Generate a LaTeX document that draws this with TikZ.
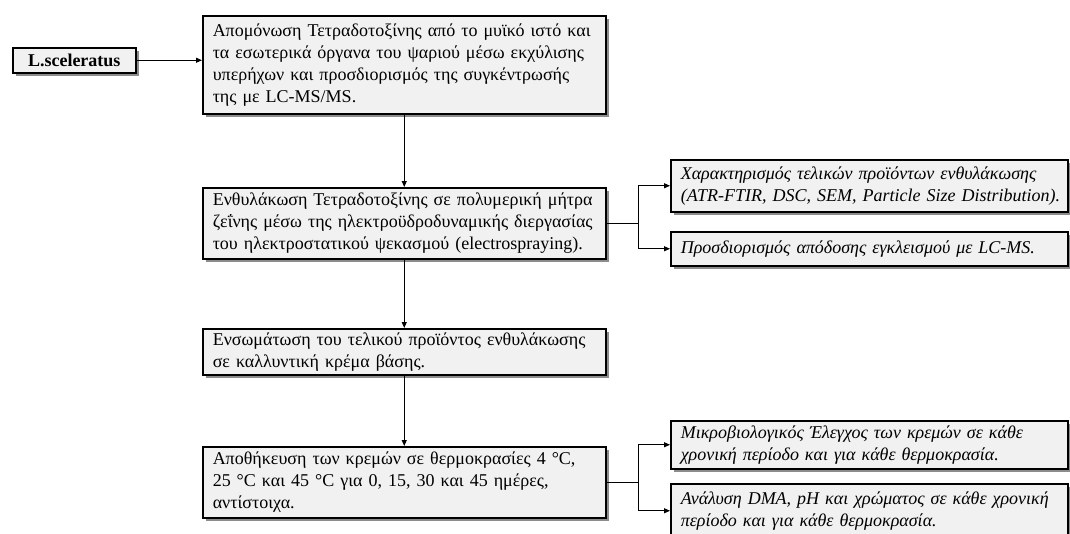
\documentclass[tikz,border=0pt]{standalone}
\usepackage{fontspec}
\setmainfont{Liberation Serif}
\usetikzlibrary{arrows.meta,shadows}
\definecolor{boxfill}{HTML}{F1F1F1}
\newcommand{\jline}[1]{\makebox[\hsize][s]{#1}}
\begin{document}
\begin{tikzpicture}[x=1pt,y=-1pt,
  box/.style={draw=black, line width=1.5pt, fill=boxfill,
    drop shadow={shadow xshift=3pt, shadow yshift=-3pt, fill=black, opacity=0.45},
    inner xsep=10pt, inner ysep=0pt, anchor=north west, align=left,
    font=\fontsize{18}{22}\selectfont},
  mainbox/.style={box, text width=383pt},
  sidebox/.style={box, text width=377pt, font=\fontsize{18}{22}\selectfont\itshape},
  arr/.style={line width=1pt, -{Triangle[length=6pt,width=5pt]}},
  conn/.style={line width=1pt}]
\useasboundingbox (0,0) rectangle (1070,533);
\clip (0,0) rectangle (1070,533);

\node[box, anchor=north west, minimum width=123pt, minimum height=25pt, text width=, inner xsep=0pt,
  align=center, font=\fontsize{18}{22}\selectfont\bfseries] (lsc) at (12,47) {L.sceleratus};

\node[mainbox, minimum height=98pt] (b1) at (202,15) {%
\jline{Απομόνωση Τετραδοτοξίνης από το μυϊκό ιστό και}\\
\jline{τα εσωτερικά όργανα του ψαριού μέσω εκχύλισης}\\
\jline{υπερήχων και προσδιορισμός της συγκέντρωσής}\\
της με LC-MS/MS.};

\node[mainbox, minimum height=71pt] (b2) at (202,187) {%
\jline{Ενθυλάκωση Τετραδοτοξίνης σε πολυμερική μήτρα}\\
\jline{ζεΐνης μέσω της ηλεκτροϋδροδυναμικής διεργασίας}\\
του ηλεκτροστατικού ψεκασμού (electrospraying).};

\node[mainbox, minimum height=46pt] (b3) at (202,328) {%
\jline{Ενσωμάτωση του τελικού προϊόντος ενθυλάκωσης}\\
σε καλλυντική κρέμα βάσης.};

\node[mainbox, minimum height=71pt] (b4) at (202,446) {%
\jline{Αποθήκευση των κρεμών σε θερμοκρασίες 4 °C,}\\
25 °C και 45 °C για 0, 15, 30 και 45 ημέρες,\\
αντίστοιχα.};

\node[sidebox, minimum height=52pt] (r1) at (670,159) {%
\mbox{Χαρακτηρισμός τελικών προϊόντων ενθυλάκωσης}\\
\mbox{(ATR-FTIR, DSC, SEM, Particle Size Distribution).}};

\node[sidebox, minimum height=34pt] (r2) at (670,231) {%
\mbox{Προσδιορισμός απόδοσης εγκλεισμού με LC-MS.}};

\node[sidebox, minimum height=48pt] (r3) at (670,420) {%
\mbox{Μικροβιολογικός Έλεγχος των κρεμών σε κάθε}\\
\mbox{χρονική περίοδο και για κάθε θερμοκρασία.}};

\node[sidebox, minimum height=54pt] (r4) at (670,483) {%
\mbox{Ανάλυση DMA, pH και χρώματος σε κάθε χρονική}\\
\mbox{περίοδο και για κάθε θερμοκρασία.}};

\draw[arr] (lsc.east) -- (lsc.east -| b1.west);
\draw[arr] (b1.south) -- (b2.north);
\draw[arr] (b2.south) -- (b3.north);
\draw[arr] (b3.south) -- (b4.north);

\coordinate (j1) at ([xshift=32pt]b2.east);
\draw[conn] (b2.east) -- (j1);
\draw[arr] (j1) |- (r1.west);
\draw[arr] (j1) |- (r2.west);

\coordinate (j2) at ([xshift=32pt]b4.east);
\draw[conn] (b4.east) -- (j2);
\draw[arr] (j2) |- (r3.west);
\draw[arr] (j2) |- (r4.west);
\end{tikzpicture}
\end{document}
